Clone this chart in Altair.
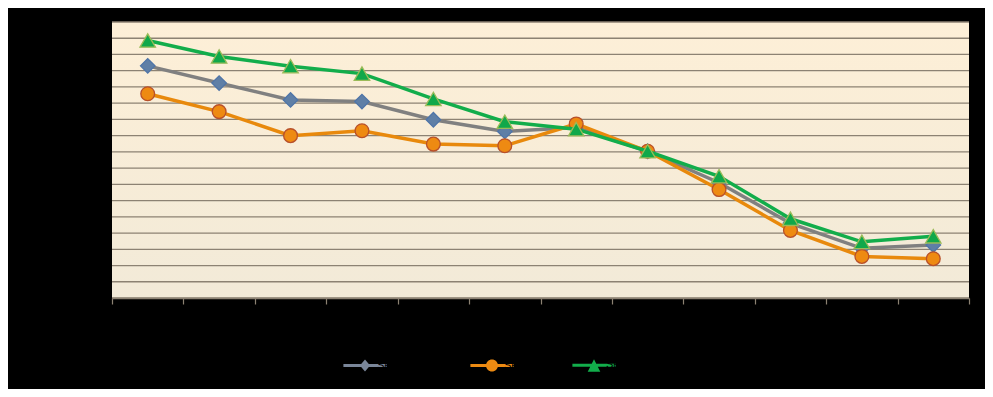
import altair as alt
import pandas as pd

# ---- data ----
categories = ["1", "2", "3", "4", "5", "6", "7", "8", "9", "10", "11", "12"]
series_names = ["Series A (left)", "Series B", "Series C"]
gray_vals = [71.5, 66.2, 61.0, 60.5, 54.9, 51.3, 52.5, 45.2, 35.5, 23.0, 15.3, 16.3]
orange_vals = [62.9, 57.4, 50.0, 51.5, 47.4, 46.9, 53.6, 45.2, 33.4, 20.8, 12.8, 12.1]
green_vals = [79.3, 74.4, 71.4, 69.1, 61.3, 54.3, 52.0, 45.2, 37.5, 24.4, 17.3, 19.0]
y_ticks = [0, 5, 10, 15, 20, 25, 30, 35, 40, 45, 50, 55, 60, 65, 70, 75, 80, 85]

# ---- styles ----
W, H = 857, 276
GRID = "#8c8273"
line_colors = ["#808080", "#e8890c", "#12ad4b"]
marker_fill = ["#5f7fa6", "#ee8a12", "#10a84a"]
marker_stroke = ["#4f75a8", "#b8502a", "#9bbb59"]
marker_shape = ["diamond", "circle", "triangle-up"]
marker_size = [210, 190, 240]
legend_fill = ["#7a8699", "#ec8a12", "#12ad4b"]
legend_paths = [
    "M-3.6,-0.25H3.6V0.25H-3.6Z M0,-1L0.85,0L0,1L-0.85,0Z",
    "M-3.6,-0.25H3.6V0.25H-3.6Z M1,0A1,1,0,1,1,-1,0A1,1,0,1,1,1,0Z",
    "M-3.6,-0.25H3.6V0.25H-3.6Z M0,-1L1.05,1.1L-1.05,1.1Z",
]

rows = []
for name, vals in zip(series_names, [gray_vals, orange_vals, green_vals]):
    for c, v in zip(categories, vals):
        rows.append({"cat": c, "series": name, "val": v})
df = pd.DataFrame(rows)

yscale = alt.Scale(domain=[0, 85], nice=False, zero=True)
xenc = alt.X(
    "cat:N",
    sort=categories,
    bandPosition=0.5,
    scale=alt.Scale(type="band", paddingInner=0, paddingOuter=0),
    axis=alt.Axis(
        title=None, tickBand="extent", labelAngle=0, labelColor="black",
        domainColor=GRID, domainWidth=1.3, tickColor=GRID, tickSize=6,
        tickWidth=1.2, grid=False, zindex=1, labelFontSize=11,
    ),
)
yenc = alt.Y(
    "val:Q",
    scale=yscale,
    axis=alt.Axis(
        title=None, values=y_ticks, labelColor="black", grid=False,
        domainColor="#eeeae2", domainWidth=1.5, tickColor=GRID, tickSize=6,
        tickWidth=1.2, zindex=1, labelFontSize=11,
    ),
)

bg = alt.Chart(pd.DataFrame({"a": [0]})).mark_rect(
    color={
        "gradient": "linear", "x1": 0, "x2": 0, "y1": 0, "y2": 1,
        "stops": [{"offset": 0, "color": "#fdefd7"}, {"offset": 1, "color": "#f2ead8"}],
    }
).encode(x=alt.value(0), x2=alt.value(W), y=alt.value(0), y2=alt.value(H))

grid = alt.Chart(pd.DataFrame({"tick": y_ticks})).mark_rule(
    color=GRID, strokeWidth=1.3
).encode(y=alt.Y("tick:Q", scale=yscale, axis=None))

layers = [bg, grid]
for i, name in enumerate(series_names):
    base = alt.Chart(df).transform_filter(alt.datum.series == name)
    layers.append(
        base.mark_line(color=line_colors[i], strokeWidth=3.5).encode(x=xenc, y=yenc)
    )
    layers.append(
        base.mark_point(
            shape=marker_shape[i], filled=True, fill=marker_fill[i],
            stroke=marker_stroke[i], strokeWidth=1.3, size=marker_size[i], opacity=1,
        ).encode(x=xenc, y=yenc)
    )

leg = alt.Legend(
    title=None, orient="none", legendX=247, legendY=337, direction="horizontal",
    labelColor="black", labelFontSize=11, symbolSize=144, symbolStrokeWidth=0,
    columnPadding=26, labelOffset=6,
)
legend_layer = alt.Chart(df).transform_filter("false").mark_point(
    filled=True, opacity=1, strokeWidth=0
).encode(
    x=xenc, y=yenc,
    shape=alt.Shape("series:N", scale=alt.Scale(domain=series_names, range=legend_paths), legend=leg),
    fill=alt.Fill("series:N", scale=alt.Scale(domain=series_names, range=legend_fill), legend=leg),
)
layers.append(legend_layer)

chart = alt.layer(*layers).properties(
    width=W, height=H,
    autosize=alt.AutoSizeParams(type="none"),
    padding={"left": 104, "top": 14, "right": 16, "bottom": 91},
    background="black",
).configure_view(stroke=None)

chart.save("out.html", embed_options={"renderer": "svg", "actions": False})
